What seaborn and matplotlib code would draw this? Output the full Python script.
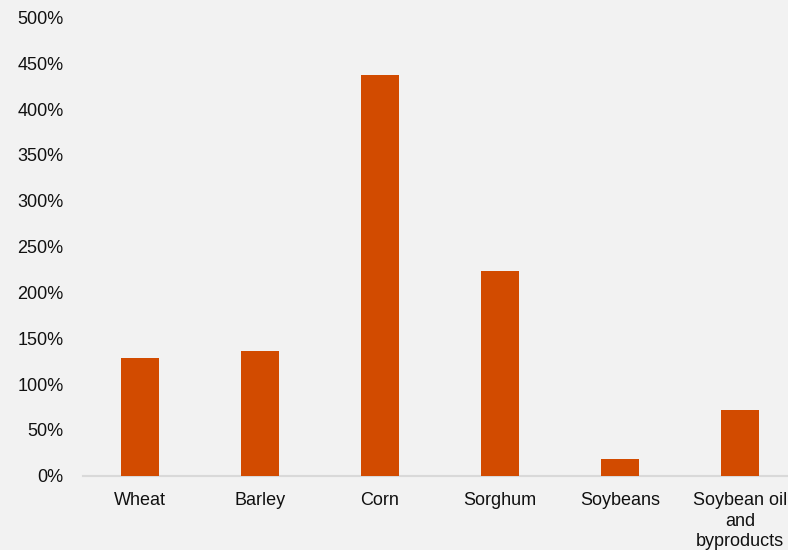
import matplotlib
matplotlib.use("Agg")
import matplotlib.pyplot as plt
import seaborn as sns
import pandas as pd
from matplotlib.ticker import FuncFormatter, MultipleLocator

categories = ["Wheat", "Barley", "Corn", "Sorghum", "Soybeans", "Soybean oil\nand\nbyproducts"]
values = [128.4, 136.4, 436.9, 223.7, 18.2, 72.0]

df = pd.DataFrame({"category": categories, "value": values})

sns.set_theme(style="white")
plt.rcParams["font.family"] = ["Liberation Sans", "DejaVu Sans"]

W, H = 788, 550
fig = plt.figure(figsize=(W / 100, H / 100), dpi=100, facecolor="#F2F2F2")
left, right = 83, 788
top, bottom = 17.5, 475.7
ax = fig.add_axes([left / W, (H - bottom) / H, (right - left) / W, (bottom - top) / H])
ax.set_facecolor("#F2F2F2")

sns.barplot(data=df, x="category", y="value", color="#D24B00", width=0.315,
            saturation=1, ax=ax, edgecolor="none")

ax.set_ylim(0, 500)
ax.set_xlim(-0.475, 5.4)
ax.yaxis.set_major_locator(MultipleLocator(50))
ax.yaxis.set_major_formatter(FuncFormatter(lambda v, p: f"{int(v)}%"))
ax.set_xlabel("")
ax.set_ylabel("")
for s in ["top", "right", "left"]:
    ax.spines[s].set_visible(False)
ax.spines["bottom"].set_color("#D9D9D9")
ax.spines["bottom"].set_linewidth(1.5)
ax.spines["bottom"].set_zorder(0)
ax.tick_params(axis="y", length=0, pad=14, labelsize=13, labelcolor="#111111")
ax.tick_params(axis="x", length=0, pad=11.5, labelsize=13, labelcolor="#111111")
for lbl in ax.get_xticklabels():
    lbl.set_linespacing(1.3)
ax.grid(False)

fig.savefig("out.png", dpi=100, facecolor=fig.get_facecolor())
